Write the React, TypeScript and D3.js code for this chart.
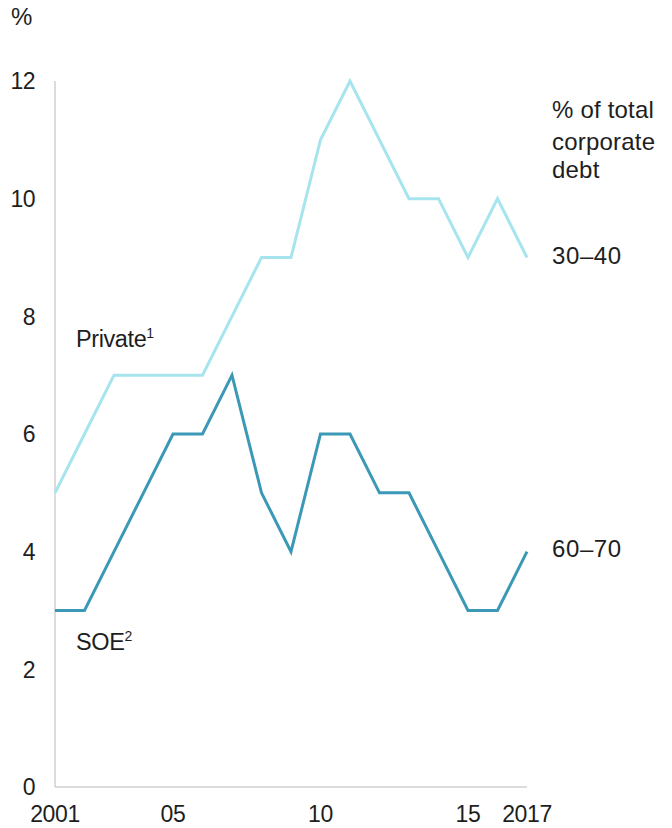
import React from "react";
import * as d3 from "d3";

const years = [2001, 2002, 2003, 2004, 2005, 2006, 2007, 2008, 2009, 2010, 2011, 2012, 2013, 2014, 2015, 2016, 2017];
const privateValues = [5, 6, 7, 7, 7, 7, 8, 9, 9, 11, 12, 11, 10, 10, 9, 10, 9];
const soeValues = [3, 3, 4, 5, 6, 6, 7, 5, 4, 6, 6, 5, 5, 4, 3, 3, 4];
const yTicks = [0, 2, 4, 6, 8, 10, 12];
const xTicks = [2001, 2005, 2010, 2015, 2017];
const xTickLabels = ["2001", "05", "10", "15", "2017"];

const W = 672;
const H = 828;
const FONT = "'Liberation Sans', Arial, Helvetica, sans-serif";
const TEXT = "#1e1e1e";

export default function App() {
  const x = d3.scaleLinear().domain([2001, 2017]).range([55, 527]);
  const y = d3.scaleLinear().domain([0, 12]).range([787, 81]);
  const line = d3
    .line<number>()
    .x((_, i) => x(years[i]))
    .y((d) => y(d));

  return (
    <svg
      width={W}
      height={H}
      style={{ position: "absolute", left: 0, top: 0, background: "#fff" }}
      fontFamily={FONT}
    >
      {/* axes */}
      <line x1={x(2001)} x2={x(2001)} y1={y(12)} y2={y(0)} stroke="#d0d0d0" strokeWidth={1.5} />
      <line x1={x(2001)} x2={x(2017)} y1={y(0)} y2={y(0)} stroke="#d0d0d0" strokeWidth={1.5} />

      {/* y ticks */}
      {yTicks.map((t) => (
        <text key={t} x={35} y={y(t) + 8.3} textAnchor="end" fontSize={23} fill={TEXT} letterSpacing={-0.6}>
          {t}
        </text>
      ))}
      <text x={11} y={25} fontSize={24} fill={TEXT}>%</text>

      {/* x ticks */}
      {xTicks.map((t, i) => (
        <text key={t} x={x(t)} y={822} textAnchor="middle" fontSize={23} fill={TEXT} letterSpacing={-0.4}>
          {xTickLabels[i]}
        </text>
      ))}

      {/* lines */}
      <path d={line(privateValues) ?? ""} fill="none" stroke="#a6e4ee" strokeWidth={3} strokeLinejoin="miter" />
      <path d={line(soeValues) ?? ""} fill="none" stroke="#3b98b6" strokeWidth={3} strokeLinejoin="miter" />

      {/* series labels */}
      <text x={76} y={347} fontSize={23.5} fill={TEXT} letterSpacing={-0.4}>
        Private<tspan fontSize={14} dy={-9}>1</tspan>
      </text>
      <text x={76} y={650} fontSize={23.5} fill={TEXT} letterSpacing={-0.4}>
        SOE<tspan fontSize={14} dy={-9}>2</tspan>
      </text>

      {/* right annotations */}
      <text x={552} y={118} fontSize={24} fill={TEXT} letterSpacing={0.2}>% of total</text>
      <text x={552} y={150} fontSize={24} fill={TEXT} letterSpacing={0.2}>corporate</text>
      <text x={552} y={178} fontSize={24} fill={TEXT} letterSpacing={0.2}>debt</text>
      <text x={552} y={264} fontSize={24} fill={TEXT} letterSpacing={0.6}>30–40</text>
      <text x={552} y={557} fontSize={24} fill={TEXT} letterSpacing={0.6}>60–70</text>
    </svg>
  );
}
